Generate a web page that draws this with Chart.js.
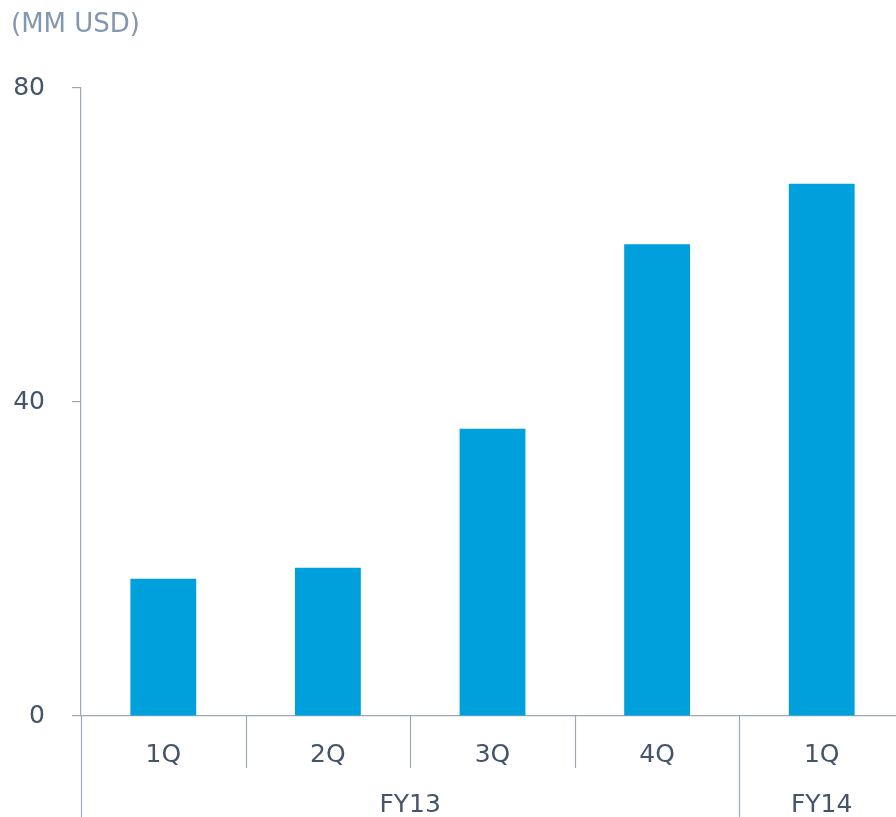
<!DOCTYPE html>
<html>
<head>
<meta charset="utf-8">
<script src="https://cdn.jsdelivr.net/npm/chart.js@4.4.1/dist/chart.umd.min.js"></script>
<style>
  html, body { margin: 0; padding: 0; background: #fff; overflow: hidden; }
  #wrap { position: relative; width: 896px; height: 817px; overflow: hidden; }
  #wrap .frame { position: absolute; left: 0; top: 0; width: 904px; height: 817px; }
  #unit { position: absolute; left: 11px; top: 8px; font: 26px "DejaVu Sans", sans-serif; color: #8497b0; }
</style>
</head>
<body>
<div id="wrap">
  <div class="frame"><canvas id="chart" width="904" height="817"></canvas></div>
  <div id="unit">(MM USD)</div>
</div>
<script>
const quarters = ["1Q", "2Q", "3Q", "4Q", "1Q"];
const fiscalYears = ["FY13", "FY13", "FY13", "FY13", "FY14"];
const revenue = [17.5, 18.9, 36.6, 60.1, 67.8];
const yTicks = [0, 40, 80];

const axisGray = "#9ea8b3";
const textColor = "#44546a";
const barBlue = "#00a0dc";

// fiscal-year row under the quarter labels, plus the taller dividers
const yearGroups = {
    id: "yearGroups",
    afterDraw(chart) {
        const x = chart.scales.x;
        const ctx = chart.ctx;
        const half = (x.getPixelForValue(1) - x.getPixelForValue(0)) / 2;
        const base = chart.chartArea.bottom;
        const bottom = chart.height;

        ctx.save();
        ctx.strokeStyle = axisGray;
        ctx.lineWidth = 1.2;

        // y axis runs down through the label rows
        ctx.beginPath();
        ctx.moveTo(x.left + 0.5, base);
        ctx.lineTo(x.left + 0.5, bottom);
        ctx.stroke();

        // groups of consecutive quarters sharing a year
        const groups = [];
        fiscalYears.forEach((fy, i) => {
            const last = groups[groups.length - 1];
            if (last && last.name === fy) last.end = i;
            else groups.push({ name: fy, start: i, end: i });
        });

        for (let i = 1; i < quarters.length; i++) {
            const px = Math.round(x.getPixelForValue(i) - half) + 0.5;
            const yearBreak = fiscalYears[i] !== fiscalYears[i - 1];
            ctx.beginPath();
            ctx.moveTo(px, base);
            ctx.lineTo(px, yearBreak ? bottom : base + 52);
            ctx.stroke();
        }

        ctx.fillStyle = textColor;
        ctx.font = "25px 'DejaVu Sans', sans-serif";
        ctx.textAlign = "center";
        ctx.textBaseline = "middle";
        groups.forEach(g => {
            const left = x.getPixelForValue(g.start) - half;
            const right = x.getPixelForValue(g.end) + half;
            ctx.fillText(g.name, (left + right) / 2, base + 89);
        });
        ctx.restore();
    }
};

new Chart(document.getElementById("chart"), {
    type: "bar",
    data: {
        labels: quarters,
        datasets: [{
            data: revenue,
            backgroundColor: barBlue,
            barPercentage: 0.4,
            categoryPercentage: 1
        }]
    },
    options: {
        responsive: false,
        animation: false,
        layout: { padding: { top: 88, left: 0, right: 0, bottom: 0 } },
        plugins: {
            legend: { display: false },
            tooltip: { enabled: false }
        },
        scales: {
            x: {
                grid: { display: false },
                border: { display: false },
                ticks: {
                    color: textColor,
                    font: { family: "'DejaVu Sans', sans-serif", size: 25 },
                    padding: 16,
                    maxRotation: 0
                },
                afterFit(scale) { scale.height = 101; }
            },
            y: {
                min: 0,
                max: 80,
                afterBuildTicks(scale) { scale.ticks = yTicks.map(v => ({ value: v })); },
                grid: {
                    color: c => c.tick && c.tick.value === 0 ? axisGray : "transparent",
                    tickColor: axisGray,
                    tickLength: 9,
                    lineWidth: 1.2
                },
                border: { display: true, color: axisGray, width: 1.2 },
                ticks: {
                    color: textColor,
                    font: { family: "'DejaVu Sans', sans-serif", size: 25 },
                    padding: 27
                },
                afterFit(scale) { scale.width = 81; }
            }
        }
    },
    plugins: [yearGroups]
});
</script>
</body>
</html>
